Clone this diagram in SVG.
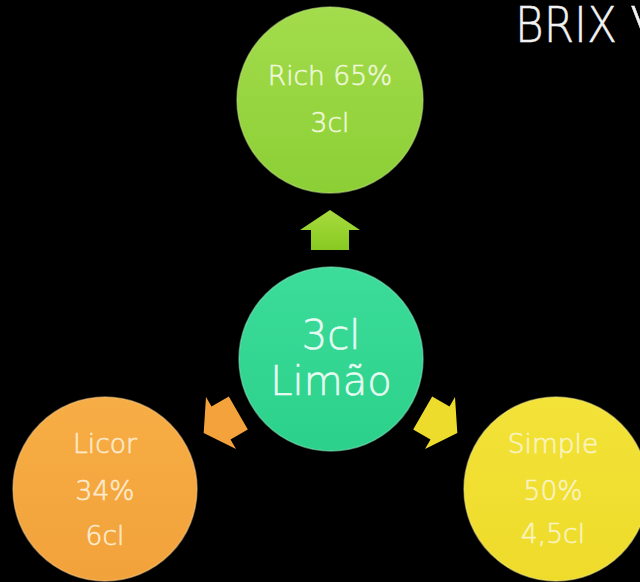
<svg xmlns="http://www.w3.org/2000/svg" width="640" height="582" viewBox="0 0 640 582">
<defs>
<linearGradient id="gLime" x1="0" y1="0" x2="0" y2="1"><stop offset="0" stop-color="#a3dc4c"/><stop offset="1" stop-color="#8ccf35"/></linearGradient>
<linearGradient id="gTeal" x1="0" y1="0" x2="0" y2="1"><stop offset="0" stop-color="#3cdc9a"/><stop offset="1" stop-color="#2bd18a"/></linearGradient>
<linearGradient id="gOrange" x1="0" y1="0" x2="0" y2="1"><stop offset="0" stop-color="#f7ad45"/><stop offset="1" stop-color="#f2a23a"/></linearGradient>
<linearGradient id="gYellow" x1="0" y1="0" x2="0" y2="1"><stop offset="0" stop-color="#f3e238"/><stop offset="1" stop-color="#eedb2a"/></linearGradient>
<linearGradient id="gArrLime" x1="0" y1="0" x2="0" y2="1"><stop offset="0" stop-color="#a8dc3e"/><stop offset="1" stop-color="#88c922"/></linearGradient>
<path id="arrow" d="M0,-20 L30,0 L19,0 L19,20 L-19,20 L-19,0 L-30,0 Z"/>
</defs>
<style>
.node circle{stroke-width:1.5;stroke-opacity:0.5}
.lbl{font-family:"DejaVu Sans","Liberation Sans",sans-serif;font-weight:300;text-anchor:middle;stroke-width:0.6}
.small{font-size:26.5px}
.big{font-size:40px}
.title{font-family:"DejaVu Sans","Liberation Sans",sans-serif;font-weight:300;font-size:50px;fill:#f2f2f2;stroke:#f2f2f2;stroke-width:0.5}
</style>
<rect width="640" height="582" fill="#000"/>
<text class="title" x="515" y="42" textLength="102" lengthAdjust="spacingAndGlyphs">BRIX</text>
<text class="title" x="630" y="42">V</text>
<g id="connectors">
<use href="#arrow" transform="translate(330,230)" fill="url(#gArrLime)"/>
<use href="#arrow" transform="translate(221,423) rotate(-120)" fill="#f4a33c"/>
<use href="#arrow" transform="translate(440,423) rotate(120)" fill="#eedc2c"/>
</g>
<g id="rich" class="node">
<circle cx="330" cy="100" r="93" fill="url(#gLime)" stroke="#c4ea88"/>
<text class="lbl small" x="330" y="85" fill="#eef7d8" stroke="#eef7d8">Rich 65%</text>
<text class="lbl small" x="330" y="132" fill="#eef7d8" stroke="#eef7d8">3cl</text>
</g>
<g id="limao" class="node">
<circle cx="331" cy="359" r="92" fill="url(#gTeal)" stroke="#8aeec4"/>
<text class="lbl big" x="331" y="349" fill="#e8fbf3" stroke="#e8fbf3">3cl</text>
<text class="lbl big" x="331" y="395" fill="#e8fbf3" stroke="#e8fbf3">Limão</text>
</g>
<g id="licor" class="node">
<circle cx="105" cy="489" r="92" fill="url(#gOrange)" stroke="#fbd08e"/>
<text class="lbl small" x="105" y="453" fill="#feeacc" stroke="#feeacc">Licor</text>
<text class="lbl small" x="105" y="500" fill="#feeacc" stroke="#feeacc">34%</text>
<text class="lbl small" x="105" y="545" fill="#feeacc" stroke="#feeacc">6cl</text>
</g>
<g id="simple" class="node">
<circle cx="556" cy="489" r="92" fill="url(#gYellow)" stroke="#f8ef8a"/>
<text class="lbl small" x="553" y="453" fill="#faf4c0" stroke="#faf4c0">Simple</text>
<text class="lbl small" x="553" y="500" fill="#faf4c0" stroke="#faf4c0">50%</text>
<text class="lbl small" x="553" y="543" fill="#faf4c0" stroke="#faf4c0">4,5cl</text>
</g>
</svg>
